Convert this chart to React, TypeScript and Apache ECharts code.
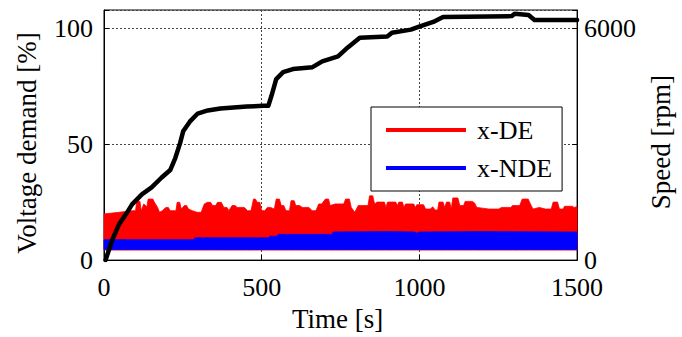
import React, { useEffect, useRef } from "react";
import * as echarts from "echarts";

// Motor speed (black, right axis)
const speedTime = [5, 26, 48, 70, 89, 120, 151, 182, 210, 226, 241, 251, 272, 297, 329, 369, 453, 506, 521, 531, 546, 568, 599, 661, 692, 742, 773, 811, 898, 913, 973, 997, 1044, 1075, 1293, 1302, 1346, 1365, 1500];
const speedRpm = [0, 520, 930, 1190, 1440, 1700, 1880, 2130, 2330, 2640, 3020, 3330, 3580, 3790, 3870, 3920, 3970, 3990, 3990, 4250, 4680, 4860, 4940, 4990, 5140, 5270, 5500, 5750, 5780, 5880, 5960, 6030, 6160, 6290, 6310, 6370, 6340, 6210, 6210];

// x-DE voltage demand envelope (red)
const redTime = [0, 48, 90, 100, 104, 114, 118, 126, 136, 140, 155, 160, 170, 176, 185, 196, 204, 210, 228, 232, 240, 245, 255, 262, 268, 280, 295, 308, 318, 328, 338, 344, 354, 360, 372, 380, 390, 396, 406, 416, 422, 445, 455, 466, 474, 480, 486, 494, 500, 510, 518, 528, 540, 546, 556, 562, 570, 577, 588, 593, 603, 608, 620, 629, 650, 660, 672, 681, 690, 702, 712, 717, 733, 760, 766, 778, 784, 795, 806, 837, 842, 852, 858, 866, 889, 894, 899, 925, 930, 935, 946, 951, 956, 982, 987, 992, 1013, 1020, 1035, 1042, 1050, 1058, 1062, 1075, 1080, 1086, 1096, 1101, 1106, 1122, 1128, 1140, 1145, 1168, 1175, 1182, 1200, 1220, 1252, 1260, 1290, 1295, 1318, 1326, 1345, 1352, 1360, 1380, 1400, 1418, 1424, 1438, 1444, 1456, 1460, 1485, 1490, 1500];
const redUpper = [19.9, 20.6, 21.3, 21.3, 25.6, 25.3, 21.3, 24.2, 23.0, 26.3, 26.3, 24.9, 22.7, 20.6, 21.3, 22.7, 22.7, 21.3, 21.3, 24.9, 24.9, 22.0, 23.5, 23.5, 22.0, 21.3, 20.6, 20.6, 24.2, 24.9, 24.9, 23.5, 23.5, 24.9, 24.9, 22.7, 22.7, 21.3, 23.5, 23.5, 22.7, 22.7, 21.3, 21.3, 26.3, 26.3, 24.9, 24.9, 21.3, 21.3, 22.7, 22.7, 22.0, 26.3, 26.3, 23.5, 23.5, 21.3, 21.3, 25.6, 25.6, 23.5, 23.5, 22.7, 22.7, 21.3, 21.3, 24.2, 24.2, 26.3, 26.3, 23.5, 24.2, 24.2, 26.3, 26.3, 22.7, 20.6, 23.5, 23.5, 27.7, 27.7, 24.2, 25.0, 25.0, 22.7, 25.0, 25.0, 23.5, 25.0, 25.0, 22.7, 24.2, 24.2, 22.7, 23.9, 23.9, 22.0, 22.0, 23.0, 21.6, 21.6, 25.0, 25.0, 22.7, 25.0, 25.0, 22.0, 26.8, 26.8, 23.5, 23.5, 25.3, 25.3, 24.6, 22.7, 22.4, 22.0, 22.0, 22.7, 22.7, 23.5, 23.5, 26.3, 26.3, 24.2, 22.0, 22.7, 22.0, 22.0, 25.0, 25.0, 22.0, 22.0, 23.2, 23.2, 22.7, 23.0];
const redLower = 4.3;

// x-NDE voltage demand envelope (blue)
const blueTime = [0, 286, 288, 524, 526, 550, 552, 724, 726, 900, 985, 992, 1000, 1200, 1500];
const blueUpper = [8.8, 8.8, 9.6, 9.6, 10.3, 10.3, 11.1, 11.1, 12.1, 12.3, 12.1, 11.6, 12.1, 12.3, 12.1];
const blueLower = 4.6;

const xTicks = [0, 500, 1000, 1500];
const leftTicks = [0, 50, 100];
const rightTicks = [0, 6000];

const FONT = "'Liberation Serif', 'Times New Roman', 'DejaVu Serif', serif";

function bandSeries(name: string, color: string, times: number[], upper: number[], lower: number, z: number) {
  return {
    name,
    type: "custom",
    color,
    itemStyle: { color },
    silent: true,
    z,
    data: [[times[0], lower]],
    renderItem: (_params: any, api: any) => {
      const top = times.map((t, i) => api.coord([t, upper[i]]));
      const bottom = times
        .slice()
        .reverse()
        .map((t) => api.coord([t, lower]));
      return {
        type: "polygon",
        shape: { points: top.concat(bottom) },
        style: { fill: color, stroke: color, lineWidth: 0.8 },
      };
    },
  };
}

export default function App() {
  const ref = useRef<HTMLDivElement>(null);
  useEffect(() => {
    if (!ref.current) return;
    const chart = echarts.init(ref.current, undefined, { renderer: "svg" });
    const leftMax = 107.8;
    const rightMax = leftMax * 60;
    const txt = { fontFamily: FONT, fontSize: 26, color: "#000" };
    const title = { fontFamily: FONT, fontSize: 27, color: "#000" };
    const gridLine = { show: true, lineStyle: { color: "#444", width: 1, type: [2, 2] } };
    chart.setOption({
      animation: false,
      grid: { left: 104, right: 96, top: 10, bottom: 73, show: true, borderColor: "#000", borderWidth: 1 },
      legend: {
        data: ["x-DE", "x-NDE"],
        orient: "vertical",
        left: 371,
        top: 107,
        icon: "rect",
        itemWidth: 80,
        itemHeight: 4,
        itemGap: 12,
        padding: [10, 10, 10, 15],
        backgroundColor: "#fff",
        borderColor: "#000",
        borderWidth: 1,
        selectedMode: false,
        z: 10,
        textStyle: { ...txt, padding: [8, 0, 0, 6] },
      },
      xAxis: {
        type: "value",
        min: 0,
        max: 1500,
        interval: 500,
        name: "Time [s]",
        nameLocation: "middle",
        nameGap: 44,
        nameTextStyle: { ...title, padding: [0, 6, 0, 0] },
        axisLine: { show: true, onZero: false, lineStyle: { color: "#000", width: 1 } },
        axisTick: { show: true, inside: true, length: 5, lineStyle: { color: "#000" } },
        axisLabel: { ...txt, margin: 14, formatter: (v: number) => (xTicks.includes(v) ? String(v) : "") },
        splitLine: gridLine,
      },
      yAxis: [
        {
          type: "value",
          min: 0,
          max: leftMax,
          interval: 50,
          name: "Voltage demand [%]",
          nameLocation: "middle",
          nameRotate: 90,
          nameGap: 64,
          nameTextStyle: { ...title, padding: [0, 16, 0, 0] },
          axisLine: { show: true, onZero: false, lineStyle: { color: "#000", width: 1 } },
          axisTick: { show: true, inside: true, length: 5, lineStyle: { color: "#000" } },
          axisLabel: {
            ...txt,
            margin: 11,
            lineHeight: 18,
            padding: [5, 0, 0, 0],
            formatter: (v: number) => (leftTicks.includes(v) ? String(v) : ""),
          },
          splitLine: gridLine,
        },
        {
          type: "value",
          position: "right",
          min: 0,
          max: rightMax,
          interval: 3000,
          name: "Speed [rpm]",
          nameLocation: "middle",
          nameRotate: 90,
          nameGap: 54,
          nameTextStyle: { ...title, padding: [0, 14, 0, 0] },
          axisLine: { show: true, onZero: false, lineStyle: { color: "#000", width: 1 } },
          axisTick: { show: true, inside: true, length: 5, lineStyle: { color: "#000" } },
          axisLabel: {
            ...txt,
            margin: 7,
            lineHeight: 18,
            padding: [4, 0, 0, 0],
            formatter: (v: number) => (rightTicks.includes(v) ? String(v) : ""),
          },
          splitLine: { show: false },
        },
      ],
      series: [
        bandSeries("x-DE", "#ff0000", redTime, redUpper, redLower, 2),
        bandSeries("x-NDE", "#0000ff", blueTime, blueUpper, blueLower, 3),
        {
          name: "Speed",
          type: "line",
          yAxisIndex: 1,
          color: "#000",
          data: speedTime.map((t, i) => [t, speedRpm[i]]),
          symbol: "none",
          lineStyle: { width: 4.5, color: "#000", join: "round", cap: "round" },
          silent: true,
          z: 5,
        },
      ],
    });
    return () => chart.dispose();
  }, []);
  return (
    <div
      ref={ref}
      style={{ position: "fixed", left: 0, top: 0, width: 682, height: 337, background: "#fff" }}
    />
  );
}
